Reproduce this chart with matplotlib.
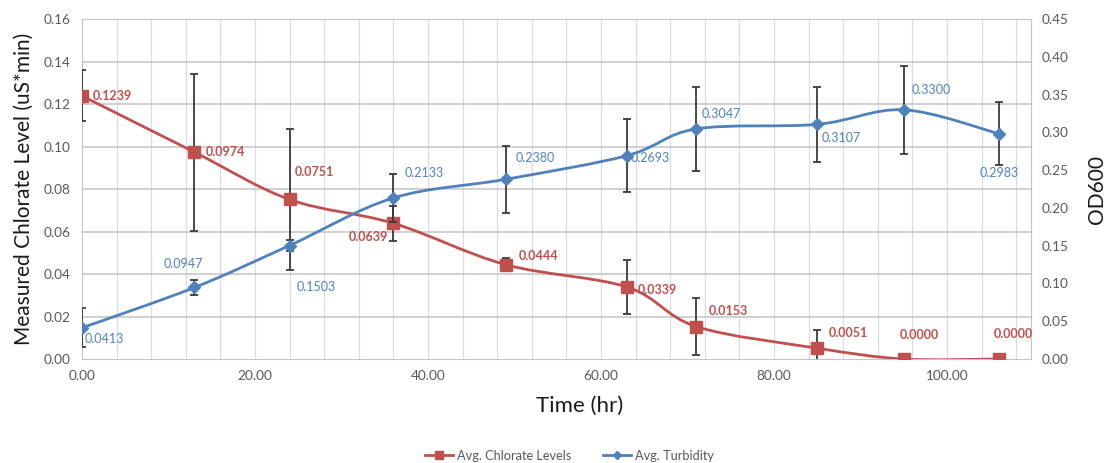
import numpy as np
import matplotlib
matplotlib.use("Agg")
import matplotlib.pyplot as plt
from matplotlib.path import Path
from matplotlib.patches import PathPatch
from matplotlib.lines import Line2D

plt.rcParams['font.family'] = ['Lato', 'DejaVu Sans']

# data
time_hr = [0, 13, 24, 36, 49, 63, 71, 85, 95, 106]
chlorate = [0.1239, 0.0974, 0.0751, 0.0639, 0.0444, 0.0339, 0.0153, 0.0051, 0.0000, 0.0000]
chlorate_err = [0.012, 0.037, 0.033, 0.0083, 0.003, 0.0129, 0.0132, 0.0087, 0.0, 0.0]
turbidity = [0.0413, 0.0947, 0.1503, 0.2133, 0.2380, 0.2693, 0.3047, 0.3107, 0.3300, 0.2983]
turbidity_err = [0.026, 0.010, 0.0072, 0.032, 0.044, 0.048, 0.056, 0.050, 0.058, 0.042]

# label offsets in points (dx, dy, ha)
chl_lbl = [(8, 0, 'left'), (8, 0, 'left'), (4, 20, 'left'),
           (-4, -10, 'right'), (9, 6, 'left'), (8, -2, 'left'),
           (9, 11, 'left'), (8, 11, 'left'), (-3, 17, 'left'),
           (-4, 18, 'left')]
tur_lbl = [(2, -8, 'left'), (-8, 17, 'center'), (5, -30, 'left'),
           (8, 18, 'left'), (7, 15, 'left'), (3, -2, 'left'),
           (4, 11, 'left'), (3, -10, 'left'), (6, 14, 'left'),
           (0, -28, 'center')]

red = '#c0504d'
blue = '#4f81bd'
grey_txt = '#595959'


def smooth_path(x, y, t=1.0 / 6):
    # Excel-like smoothed line as cubic Bezier segments through the points
    pts = np.column_stack([x, y]).astype(float)
    verts = [pts[0]]
    codes = [Path.MOVETO]
    n = len(pts)
    for i in range(n - 1):
        p0 = pts[max(i - 1, 0)]
        p1 = pts[i]
        p2 = pts[i + 1]
        p3 = pts[min(i + 2, n - 1)]
        c1 = p1 + (p2 - p0) * t
        c2 = p2 - (p3 - p1) * t
        verts += [c1, c2, p2]
        codes += [Path.CURVE4] * 3
    return Path(verts, codes)


fig = plt.figure(figsize=(11.06, 4.63), dpi=100)
ax = fig.add_axes([0.0741, 0.2246, 0.858, 0.734])
ax2 = ax.twinx()

ax.set_xlim(0, 109.7)
ax.set_ylim(0, 0.16)
ax2.set_ylim(0, 0.45)

# grid
for xv in np.arange(4, 109.7, 4):
    ax.axvline(xv, color='#d5dcea', lw=0.9, zorder=0)
for yv in np.arange(0.02, 0.161, 0.02):
    ax.axhline(yv, color='#c4c4c4', lw=1.1, zorder=0)
for s in ax.spines.values():
    s.set_color('#c4c4c4')
for s in ax2.spines.values():
    s.set_visible(False)

ax.set_xticks(np.arange(0, 101, 20))
ax.set_xticklabels(['%.2f' % v for v in np.arange(0, 101, 20)])
ax.set_yticks(np.arange(0, 0.161, 0.02))
ax.set_yticklabels(['%.2f' % v for v in np.arange(0, 0.161, 0.02)])
ax2.set_yticks(np.arange(0, 0.451, 0.05))
ax2.set_yticklabels(['%.2f' % v for v in np.arange(0, 0.451, 0.05)])
for a in (ax, ax2):
    a.tick_params(length=0, labelsize=9.8, colors=grey_txt, pad=8)

ax.set_ylabel('Measured Chlorate Level (uS*min)', fontsize=15, color='#1a1a1a', labelpad=7)
ax2.set_ylabel('OD600', fontsize=15, color='#1a1a1a', labelpad=13)
ax.set_xlabel('Time (hr)', fontsize=16, color='#1a1a1a', labelpad=10)
ax.xaxis.label.set_x(0.524)

# chlorate series (left axis)
ax.add_patch(PathPatch(smooth_path(time_hr, chlorate), fill=False, ec=red, lw=2, zorder=3))
ax.errorbar(time_hr, chlorate, yerr=chlorate_err, fmt='none', ecolor='#3a3a3a',
            elinewidth=1.3, capsize=3, capthick=1.3, zorder=4)
ax.plot(time_hr, chlorate, ls='none', marker='s', ms=8, color=red, zorder=5)
for xv, yv, (dx, dy, ha) in zip(time_hr, chlorate, chl_lbl):
    ax.annotate('%.4f' % yv, (xv, yv), xytext=(dx, dy), textcoords='offset points',
                ha=ha, va='center', color=red, fontsize=9, fontweight='bold', zorder=6)

# turbidity series (right axis)
ax2.add_patch(PathPatch(smooth_path(time_hr, turbidity), fill=False, ec=blue, lw=2, zorder=3))
ax2.errorbar(time_hr, turbidity, yerr=turbidity_err, fmt='none', ecolor='#3a3a3a',
             elinewidth=1.3, capsize=3, capthick=1.3, zorder=4)
ax2.plot(time_hr, turbidity, ls='none', marker='D', ms=6, color=blue, zorder=5)
for xv, yv, (dx, dy, ha) in zip(time_hr, turbidity, tur_lbl):
    ax2.annotate('%.4f' % yv, (xv, yv), xytext=(dx, dy), textcoords='offset points',
                 ha=ha, va='center', color=blue, fontsize=9, zorder=6)

handles = [Line2D([], [], color=red, lw=2, marker='s', ms=6),
           Line2D([], [], color=blue, lw=2, marker='D', ms=4)]
fig.legend(handles, ['Avg. Chlorate Levels', 'Avg. Turbidity'], loc='center',
           bbox_to_anchor=(0.515, 0.016), ncol=2, frameon=False, fontsize=9.2,
           labelcolor=grey_txt, handlelength=2.2, handletextpad=0.3, columnspacing=2.5)

fig.savefig('out.png', dpi=100)
